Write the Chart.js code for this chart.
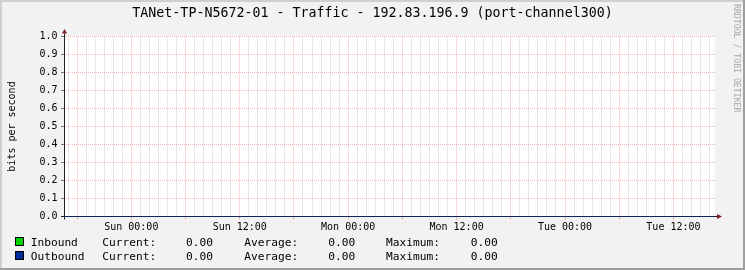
<!DOCTYPE html>
<html>

<head>
  <title>TANet-TP-N5672-01 - Traffic</title>
  <script src="https://cdn.jsdelivr.net/npm/chart.js"></script>
  <style>
    body { margin: 0; background: #f2f2f2; }
  </style>
</head>

<body>
  <canvas id="myChart" width="745" height="270"></canvas>
  <script>

    let titleText = 'TANet-TP-N5672-01 - Traffic - 192.83.196.9 (port-channel300)';
    let yAxisTitle = 'bits per second';
    let watermark = 'RRDTOOL / TOBI OETIKER';

    // time is in hours, counted from Sun 00:00
    let timeStart = -7.45;
    let timeEnd = 64.6;
    let labelHours = [0, 12, 24, 36, 48, 60];
    let labelTexts = ['Sun 00:00', 'Sun 12:00', 'Mon 00:00', 'Mon 12:00', 'Tue 00:00', 'Tue 12:00'];

    let sampleHours = [-7.45, 0, 12, 24, 36, 48, 60, 64.6];
    let inbound = [0, 0, 0, 0, 0, 0, 0, 0];
    let outbound = [0, 0, 0, 0, 0, 0, 0, 0];

    let seriesNames = ['Inbound', 'Outbound'];
    let currentVals = ['0.00', '0.00'];
    let averageVals = ['0.00', '0.00'];
    let maximumVals = ['0.00', '0.00'];

    let mono = "'DejaVu Sans Mono', monospace";
    let minorGrid = 'rgba(143, 143, 143, 0.4)';
    let majorGrid = 'rgba(222, 79, 79, 0.42)';

    let gridHours = [];
    for (let h = Math.ceil(timeStart); h <= timeEnd; h++) gridHours.push(h);

    let rrdDecor = {
      id: 'rrdDecor',
      beforeDraw(chart) {
        let c = chart.ctx, a = chart.chartArea, w = chart.width, h = chart.height;
        c.save();
        c.fillStyle = '#f2f2f2';
        c.fillRect(0, 0, w, h);
        c.fillStyle = '#cfcfcf';
        c.fillRect(0, 0, w, 2);
        c.fillRect(0, 0, 2, h);
        c.fillStyle = '#9e9e9e';
        c.fillRect(0, h - 2, w, 2);
        c.fillRect(w - 2, 0, 2, h);
        c.fillStyle = '#ffffff';
        c.fillRect(a.left, a.top - 0.5, a.right - a.left, a.bottom - a.top);
        // title
        c.fillStyle = '#000';
        c.font = '13.3px ' + mono;
        c.textAlign = 'center';
        c.textBaseline = 'middle';
        c.fillText(titleText, w / 2, 14);
        c.restore();
      },
      beforeDatasetsDraw(chart) {
        let c = chart.ctx, a = chart.chartArea;
        c.save();
        c.strokeStyle = '#1f1f1f';
        c.lineWidth = 1;
        c.beginPath();
        c.moveTo(a.left - 3, a.bottom);
        c.lineTo(a.right + 2, a.bottom);
        c.moveTo(a.left + 0.5, a.bottom + 3);
        c.lineTo(a.left + 0.5, a.top - 3);
        c.stroke();
        c.restore();
      },
      afterDraw(chart) {
        let c = chart.ctx, a = chart.chartArea;
        c.save();
        // arrows
        c.fillStyle = '#801f1f';
        c.beginPath();
        c.moveTo(a.left + 0.5, a.top - 7.5);
        c.lineTo(a.left + 3, a.top - 3);
        c.lineTo(a.left - 2, a.top - 3);
        c.closePath();
        c.fill();
        c.beginPath();
        c.moveTo(a.right + 7, a.bottom);
        c.lineTo(a.right + 2, a.bottom - 2.5);
        c.lineTo(a.right + 2, a.bottom + 2.5);
        c.closePath();
        c.fill();

        // legend
        c.font = '11.2px ' + mono;
        c.textBaseline = 'alphabetic';
        let cols = [102.3, 186, 244.3, 328.3, 386, 470.7];
        chart.data.datasets.forEach((ds, i) => {
          let base = 246 + i * 14;
          c.fillStyle = ds.legendColor;
          c.fillRect(15, base - 9, 9, 9);
          c.strokeStyle = '#000';
          c.lineWidth = 1;
          c.strokeRect(15.5, base - 8.5, 8, 8);
          c.fillStyle = '#000';
          c.fillText(seriesNames[i], 30.7, base);
          let parts = ['Current:', currentVals[i], 'Average:', averageVals[i], 'Maximum:', maximumVals[i]];
          parts.forEach((t, k) => c.fillText(t, cols[k], base));
        });

        // watermark
        c.font = '8.2px ' + mono;
        c.fillStyle = '#a8a8a8';
        c.translate(736, 4);
        c.rotate(Math.PI / 2);
        c.textBaseline = 'middle';
        c.textAlign = 'left';
        c.fillText(watermark, 0, 0);
        c.restore();
      }
    };

    let ctx = document.getElementById('myChart').getContext('2d');
    let myChart = new Chart(ctx, {
      type: 'line',
      data: {
        datasets: [{
          label: seriesNames[0],
          data: sampleHours.map((h, i) => ({ x: h, y: inbound[i] })),
          legendColor: '#00CF00',
          backgroundColor: '#00CF00',
          borderWidth: 0,
          pointRadius: 0,
          fill: 'origin'
        }, {
          label: seriesNames[1],
          data: sampleHours.map((h, i) => ({ x: h, y: outbound[i] })),
          legendColor: '#002A97',
          borderColor: '#002A97',
          borderWidth: 1,
          pointRadius: 0,
          fill: false
        }]
      },
      options: {
        responsive: false,
        animation: false,
        devicePixelRatio: 1,
        layout: { padding: { left: 0, right: 30, top: 36.5, bottom: 0 } },
        plugins: {
          legend: { display: false },
          tooltip: { enabled: false },
          title: { display: false }
        },
        scales: {
          x: {
            type: 'linear',
            min: timeStart,
            max: timeEnd,
            afterBuildTicks: (scale) => { scale.ticks = gridHours.map(v => ({ value: v })); },
            afterFit: (scale) => { scale.height = 53.5; },
            border: { display: false, dash: [1, 1] },
            grid: {
              color: (c) => (c.tick && c.tick.value % 6 === 0) ? majorGrid : minorGrid,
              tickColor: (c) => (c.tick && c.tick.value % 6 === 0) ? majorGrid : 'rgba(0,0,0,0)',
              tickLength: 3,
              tickBorderDash: []
            },
            ticks: {
              autoSkip: false,
              maxRotation: 0,
              padding: 1.5,
              color: '#000',
              font: { family: mono, size: 10 },
              callback: (v) => {
                let k = labelHours.indexOf(v);
                return k >= 0 ? labelTexts[k] : '';
              }
            }
          },
          y: {
            min: 0,
            max: 1,
            afterFit: (scale) => { scale.width = 64; },
            border: { display: false, dash: [1, 1] },
            grid: {
              color: majorGrid,
              tickColor: '#777',
              tickLength: 3,
              tickBorderDash: []
            },
            ticks: {
              stepSize: 0.1,
              padding: 3.5,
              color: '#000',
              font: { family: mono, size: 10 },
              callback: (v) => v.toFixed(1)
            },
            title: {
              display: true,
              text: yAxisTitle,
              color: '#000',
              font: { family: mono, size: 10 },
              padding: { top: 6, bottom: 0 }
            }
          }
        }
      },
      plugins: [rrdDecor]
    });

  </script>
</body>

</html>
